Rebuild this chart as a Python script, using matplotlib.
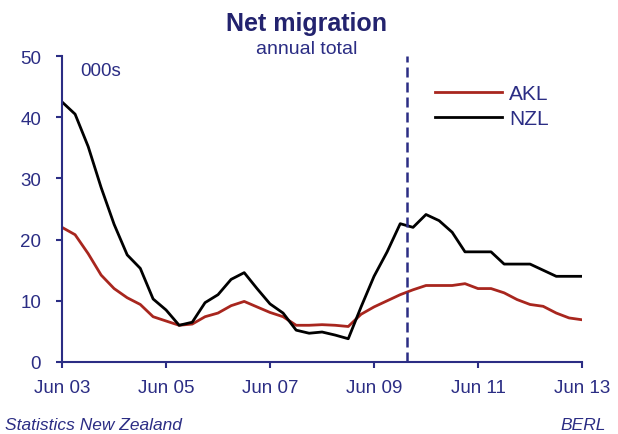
import matplotlib
matplotlib.use("Agg")
import matplotlib.pyplot as plt
import numpy as np
import pandas as pd

plt.rcParams["font.family"] = ["Liberation Sans", "DejaVu Sans"]

# quarterly, Jun 2003 - Jun 2013 (actuals to Dec 2009, forecast afterwards)
quarters = pd.date_range("2003-06-30", "2013-06-30", freq="QE")

akl = [22.0, 20.8, 17.7, 14.2, 12.0, 10.5, 9.4, 7.4, 6.7, 6.0,
       6.2, 7.4, 8.0, 9.2, 9.9, 9.0, 8.1, 7.4, 6.0, 6.0,
       6.1, 6.0, 5.8, 7.8, 9.0, 10.0, 11.0,
       11.8, 12.5, 12.5, 12.5, 12.8, 12.0, 12.0, 11.3, 10.2,
       9.4, 9.1, 8.0, 7.2, 6.9]
nzl = [42.5, 40.5, 35.2, 28.5, 22.5, 17.5, 15.3, 10.3, 8.5, 6.0,
       6.5, 9.7, 11.0, 13.5, 14.6, 12.0, 9.5, 8.0, 5.2, 4.7,
       4.9, 4.4, 3.8, 9.0, 14.0, 18.0, 22.6,
       22.0, 24.1, 23.1, 21.2, 18.0, 18.0, 18.0, 16.0, 16.0,
       16.0, 15.0, 14.0, 14.0, 14.0]

forecast_start = pd.Timestamp("2010-02-15")
tick_dates = pd.to_datetime(["2003-06-30", "2005-06-30", "2007-06-30",
                             "2009-06-30", "2011-06-30", "2013-06-30"])
tick_labels = ["Jun 03", "Jun 05", "Jun 07", "Jun 09", "Jun 11", "Jun 13"]

navy = "#2b2d84"
dark_navy = "#23236e"
red = "#a8261e"

fig = plt.figure(figsize=(6.18, 4.35), dpi=100)
ax = fig.add_axes([62 / 618, 1 - 363 / 435, (582 - 62) / 618, (363 - 57) / 435])

ax.plot(quarters, akl, color=red, lw=2, label="AKL")
ax.plot(quarters, nzl, color="black", lw=2, label="NZL")
ax.vlines(forecast_start, 0, 50, color=navy, lw=1.8, linestyles=(0, (4, 2)))

ax.set_xlim(tick_dates[0], tick_dates[-1])
ax.set_ylim(0, 50)
ax.set_yticks([0, 10, 20, 30, 40, 50])
ax.set_xticks(tick_dates)
ax.set_xticklabels(tick_labels)

for side in ["top", "right"]:
    ax.spines[side].set_visible(False)
for side in ["left", "bottom"]:
    ax.spines[side].set_color(navy)
    ax.spines[side].set_linewidth(1.5)

ax.tick_params(axis="both", colors=navy, labelcolor=navy, labelsize=13.5,
               length=4, width=1.5, direction="out")
ax.tick_params(axis="y", pad=11)
ax.tick_params(axis="x", pad=8)

ax.text(80 / 618, 1 - 71 / 435, "000s", transform=fig.transFigure,
        color=navy, fontsize=13.5, va="center", ha="left")

fig.text(307 / 618, 1 - 24 / 435, "Net migration", color=dark_navy,
         fontsize=18, fontweight="bold", ha="center", va="center")
fig.text(307 / 618, 1 - 50 / 435, "annual total", color=navy,
         fontsize=14, ha="center", va="center")

fig.legend(loc="upper left", bbox_to_anchor=(435 / 618, 1 - 85 / 435),
           frameon=False, fontsize=15, labelcolor=navy, handlelength=3.2,
           handletextpad=0.35, labelspacing=0.3, borderpad=0, borderaxespad=0)

fig.text(5 / 618, 1 - 426 / 435, "Statistics New Zealand", color=navy,
         fontsize=12.5, style="italic", ha="left", va="center")
fig.text(606 / 618, 1 - 426 / 435, "BERL", color=navy,
         fontsize=12.5, style="italic", ha="right", va="center")

fig.savefig("out.png", dpi=100)
